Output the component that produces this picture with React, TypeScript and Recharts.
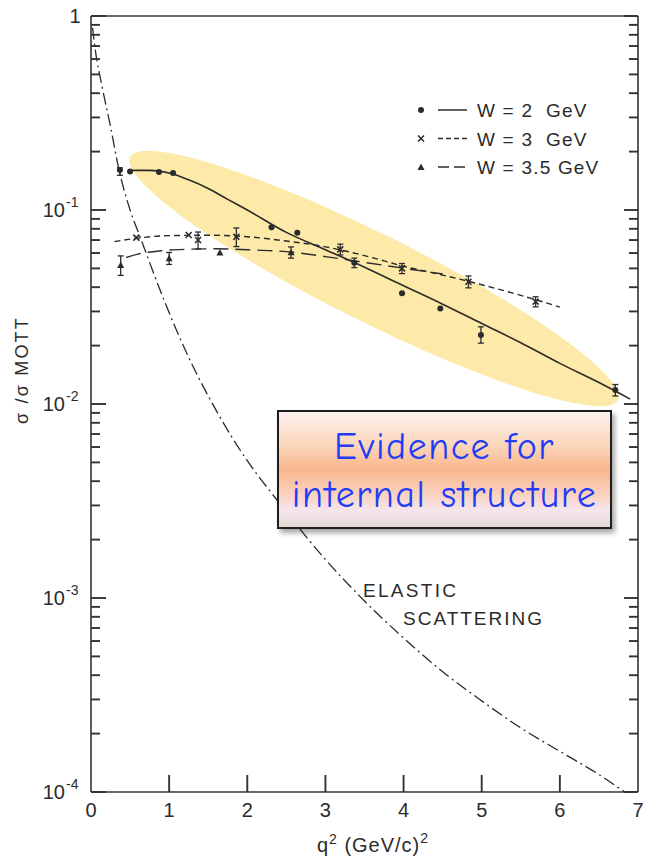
import React from 'react'
import { ComposedChart, ErrorBar, Line, Scatter, XAxis, YAxis } from 'recharts'

// fitted curves (q^2 in (GeV/c)^2, sigma/sigma_Mott)
const w2Curve = [
  { x: 0.5, y: 0.16 }, { x: 0.75, y: 0.16 }, { x: 1.0, y: 0.155 }, { x: 1.25, y: 0.143 },
  { x: 1.5, y: 0.129 }, { x: 1.75, y: 0.1135 }, { x: 2.0, y: 0.1 }, { x: 2.5, y: 0.0767 },
  { x: 3.0, y: 0.0624 }, { x: 3.5, y: 0.0507 }, { x: 4.0, y: 0.0407 }, { x: 4.5, y: 0.0327 },
  { x: 5.0, y: 0.026 }, { x: 5.5, y: 0.0207 }, { x: 6.0, y: 0.0162 }, { x: 6.5, y: 0.0129 },
  { x: 6.9, y: 0.0106 },
]
const w3Curve = [
  { x: 0.3, y: 0.0687 }, { x: 0.6, y: 0.0716 }, { x: 1.0, y: 0.0738 }, { x: 1.5, y: 0.0741 },
  { x: 2.0, y: 0.0728 }, { x: 2.5, y: 0.0692 }, { x: 3.0, y: 0.0646 }, { x: 3.5, y: 0.0582 },
  { x: 4.0, y: 0.0513 }, { x: 4.5, y: 0.0462 }, { x: 5.0, y: 0.0412 }, { x: 5.5, y: 0.0363 },
  { x: 6.0, y: 0.0316 },
]
const w35Curve = [
  { x: 0.45, y: 0.0569 }, { x: 0.6, y: 0.0592 }, { x: 0.9, y: 0.0617 }, { x: 1.2, y: 0.0627 },
  { x: 1.6, y: 0.0631 }, { x: 2.0, y: 0.0624 }, { x: 2.5, y: 0.061 }, { x: 3.0, y: 0.0575 },
  { x: 3.5, y: 0.0537 }, { x: 4.0, y: 0.0501 }, { x: 4.5, y: 0.0468 },
]
const elasticCurve = [
  { x: 0.02, y: 0.871 }, { x: 0.05, y: 0.692 }, { x: 0.15, y: 0.417 }, { x: 0.25, y: 0.269 },
  { x: 0.35, y: 0.167 }, { x: 0.5, y: 0.1 }, { x: 0.63, y: 0.0724 }, { x: 0.93, y: 0.0347 },
  { x: 1.25, y: 0.0174 }, { x: 1.6, y: 0.0093 }, { x: 2.0, y: 0.0051 }, { x: 2.38, y: 0.0032 },
  { x: 3.0, y: 0.00158 }, { x: 3.44, y: 0.00102 }, { x: 4.0, y: 0.000622 }, { x: 4.5, y: 0.000417 },
  { x: 5.0, y: 0.000295 }, { x: 5.5, y: 0.000214 }, { x: 6.0, y: 0.000162 }, { x: 6.5, y: 0.000123 },
  { x: 6.83, y: 0.0001 },
]

// measured points, err = [down, up]
const w2Points = [
  { x: 0.37, y: 0.161, err: [0.01, 0.004] }, { x: 0.5, y: 0.158 }, { x: 0.87, y: 0.157 },
  { x: 1.05, y: 0.155 }, { x: 2.31, y: 0.0814 }, { x: 2.64, y: 0.0764 },
  { x: 3.37, y: 0.0535, err: [0.003, 0.003] }, { x: 3.98, y: 0.0372 }, { x: 4.47, y: 0.0311 },
  { x: 4.99, y: 0.0227, err: [0.0021, 0.0023] }, { x: 6.71, y: 0.0118, err: [0.0008, 0.0008] },
]
const w3Points = [
  { x: 0.58, y: 0.072 }, { x: 1.25, y: 0.0743 }, { x: 1.37, y: 0.07, err: [0.007, 0.007] },
  { x: 1.86, y: 0.0728, err: [0.008, 0.008] }, { x: 3.19, y: 0.0627, err: [0.004, 0.004] },
  { x: 3.98, y: 0.05, err: [0.003, 0.003] }, { x: 4.83, y: 0.0427, err: [0.003, 0.003] },
  { x: 5.69, y: 0.0337, err: [0.002, 0.002] },
]
const w35Points = [
  { x: 0.38, y: 0.052, err: [0.006, 0.006] }, { x: 1.0, y: 0.0564, err: [0.004, 0.004] },
  { x: 1.65, y: 0.0603 }, { x: 2.56, y: 0.0605, err: [0.004, 0.004] },
]

const xTicks = [0, 1, 2, 3, 4, 5, 6, 7]
const topTicks = [1, 2, 3, 4, 5, 6]
const majorTicks = [0.0001, 0.001, 0.01, 0.1, 1]
const majorExponents = ['-4', '-3', '-2', '-1', '0']
const minorSteps = [2, 3, 4, 5, 6, 7, 8, 9]
const yTicks = majorTicks.flatMap((m, i) => (i < majorTicks.length - 1 ? [m, ...minorSteps.map((s) => m * s)] : [m]))

const legendRows = [
  { label: 'W = 2  GeV', dash: undefined, marker: 'dot' },
  { label: 'W = 3  GeV', dash: '5 3', marker: 'cross' },
  { label: 'W = 3.5 GeV', dash: '11 5', marker: 'tri' },
]

const W = 646
const H = 860
const PLOT = { left: 91, right: 638, top: 16, bottom: 792 }
const X_MAX = 7
const DECADES = 4
const INK = '#2b2b2b'
const FRAME = '#333'
const FONT = '"Liberation Sans", Arial, Helvetica, sans-serif'

const px = (x: number) => PLOT.left + (x / X_MAX) * (PLOT.right - PLOT.left)
const py = (y: number) => PLOT.top + (-Math.log10(y) / DECADES) * (PLOT.bottom - PLOT.top)

// highlight ellipse, given by its two tips in data units
const ellipseTips = [{ x: 0.5, y: 0.1875 }, { x: 6.74, y: 0.0105 }]

const majorIndex = (v: number) => majorTicks.findIndex((m) => Math.abs(m - v) / m < 1e-6)

function LeftTick({ y, payload }: any) {
  const i = majorIndex(payload.value)
  const len = i >= 0 ? 15 : 9
  return (
    <g>
      <line x1={PLOT.left} x2={PLOT.left + len} y1={y} y2={y} stroke={FRAME} strokeWidth={1.9} />
      {i === majorTicks.length - 1 && (
        <text x={75} y={y + 7} textAnchor="middle" fontSize={20} fontFamily={FONT} fill={INK}>1</text>
      )}
      {i >= 0 && i < majorTicks.length - 1 && (
        <g fontFamily={FONT} fill={INK}>
          <text x={65} y={y + 7} textAnchor="end" fontSize={20}>10</text>
          <text x={66} y={y - 3} fontSize={14}>{majorExponents[i]}</text>
        </g>
      )}
    </g>
  )
}

function RightTick({ y, payload }: any) {
  const len = majorIndex(payload.value) >= 0 ? 14 : 9
  return <line x1={PLOT.right} x2={PLOT.right - len} y1={y} y2={y} stroke={FRAME} strokeWidth={1.9} />
}

function BottomTick({ x, payload }: any) {
  const v = payload.value
  return (
    <g>
      {v > 0 && v < X_MAX && <line x1={x} x2={x} y1={PLOT.bottom} y2={PLOT.bottom - 17} stroke={FRAME} strokeWidth={1.9} />}
      <text x={x} y={817} textAnchor="middle" fontSize={20} fontFamily={FONT} fill={INK}>{v}</text>
    </g>
  )
}

function TopTick({ x }: any) {
  return <line x1={x} x2={x} y1={PLOT.top} y2={PLOT.top + 16} stroke={FRAME} strokeWidth={1.9} />
}

const dotShape = (p: any) => <circle cx={p.cx} cy={p.cy} r={3} fill={INK} />
const crossShape = (p: any) => (
  <g stroke={INK} strokeWidth={1.6}>
    <line x1={p.cx - 3} x2={p.cx + 3} y1={p.cy - 3} y2={p.cy + 3} />
    <line x1={p.cx - 3} x2={p.cx + 3} y1={p.cy + 3} y2={p.cy - 3} />
  </g>
)
const triShape = (p: any) => (
  <path d={`M${p.cx},${p.cy - 3.5} L${p.cx + 3.5},${p.cy + 3} L${p.cx - 3.5},${p.cy + 3} Z`} fill={INK} />
)

function Marker({ kind, cx, cy }: { kind: string; cx: number; cy: number }) {
  if (kind === 'dot') return dotShape({ cx, cy })
  if (kind === 'cross') return crossShape({ cx, cy })
  return triShape({ cx, cy })
}

export default function App() {
  const [a, b] = ellipseTips.map((t) => ({ x: px(t.x), y: py(t.y) }))
  const ecx = (a.x + b.x) / 2
  const ecy = (a.y + b.y) / 2
  const erx = Math.hypot(b.x - a.x, b.y - a.y) / 2
  const eang = (Math.atan2(b.y - a.y, b.x - a.x) * 180) / Math.PI

  return (
    <div style={{ position: 'absolute', left: 0, top: 0, width: W, height: H, background: '#fff' }}>
      <svg width={W} height={H} style={{ position: 'absolute', left: 0, top: 0 }}>
        <ellipse cx={ecx} cy={ecy} rx={erx} ry={44} fill="#fde9a8" transform={`rotate(${eang} ${ecx} ${ecy})`} />
      </svg>

      <div style={{ position: 'absolute', left: 0, top: 0 }}>
        <ComposedChart width={W} height={H} margin={{ top: 0, right: 0, bottom: 0, left: 0 }}>
          <XAxis
            dataKey="x"
            type="number"
            domain={[0, X_MAX]}
            ticks={xTicks}
            interval={0}
            height={H - PLOT.bottom}
            tick={BottomTick}
            tickLine={false}
            tickSize={0}
            axisLine={{ stroke: FRAME, strokeWidth: 1.6 }}
          />
          <XAxis
            xAxisId="t"
            orientation="top"
            type="number"
            domain={[0, X_MAX]}
            ticks={topTicks}
            interval={0}
            height={PLOT.top}
            tick={TopTick}
            tickLine={false}
            tickSize={0}
            axisLine={{ stroke: FRAME, strokeWidth: 1.6 }}
          />
          <YAxis
            dataKey="y"
            type="number"
            scale="log"
            domain={[0.0001, 1]}
            allowDataOverflow
            ticks={yTicks}
            interval={0}
            width={PLOT.left}
            tick={LeftTick}
            tickLine={false}
            tickSize={0}
            axisLine={{ stroke: FRAME, strokeWidth: 1.6 }}
          />
          <YAxis
            yAxisId="r"
            orientation="right"
            type="number"
            scale="log"
            domain={[0.0001, 1]}
            allowDataOverflow
            ticks={yTicks}
            interval={0}
            width={W - PLOT.right}
            tick={RightTick}
            tickLine={false}
            tickSize={0}
            axisLine={{ stroke: FRAME, strokeWidth: 1.6 }}
          />

          <Line data={elasticCurve} dataKey="y" type="monotone" stroke={INK} strokeWidth={1.3} strokeDasharray="12 4 2 4" dot={false} isAnimationActive={false} />
          <Line data={w35Curve} dataKey="y" type="monotone" stroke={INK} strokeWidth={1.4} strokeDasharray="15 7" dot={false} isAnimationActive={false} />
          <Line data={w3Curve} dataKey="y" type="monotone" stroke={INK} strokeWidth={1.4} strokeDasharray="6 4" dot={false} isAnimationActive={false} />
          <Line data={w2Curve} dataKey="y" type="monotone" stroke={INK} strokeWidth={1.6} dot={false} isAnimationActive={false} />

          <Scatter data={w2Points} dataKey="y" shape={dotShape} isAnimationActive={false}>
            <ErrorBar dataKey="err" direction="y" width={3} stroke={INK} strokeWidth={1.3} />
          </Scatter>
          <Scatter data={w3Points} dataKey="y" shape={crossShape} isAnimationActive={false}>
            <ErrorBar dataKey="err" direction="y" width={3} stroke={INK} strokeWidth={1.3} />
          </Scatter>
          <Scatter data={w35Points} dataKey="y" shape={triShape} isAnimationActive={false}>
            <ErrorBar dataKey="err" direction="y" width={3} stroke={INK} strokeWidth={1.3} />
          </Scatter>
        </ComposedChart>
      </div>

      <svg width={W} height={H} style={{ position: 'absolute', left: 0, top: 0, pointerEvents: 'none' }} fontFamily={FONT} fill={INK}>
        {legendRows.map((r, i) => {
          const y = 110 + i * 28.5
          return (
            <g key={r.label}>
              <Marker kind={r.marker} cx={421} cy={y} />
              <line x1={438} x2={467} y1={y} y2={y} stroke={INK} strokeWidth={1.5} strokeDasharray={r.dash} />
              <text x={477} y={y + 7} fontSize={19} letterSpacing={1.2} style={{ whiteSpace: 'pre' }}>{r.label}</text>
            </g>
          )
        })}
        <text x={363} y={597} fontSize={19} letterSpacing={2.3}>ELASTIC</text>
        <text x={403} y={625} fontSize={19} letterSpacing={2}>SCATTERING</text>
        <text x={373} y={852} textAnchor="middle" fontSize={20} letterSpacing={1} style={{ whiteSpace: 'pre' }}>
          q<tspan dy={-8} fontSize={14}>2</tspan><tspan dy={8}> (GeV/c)</tspan><tspan dy={-9} fontSize={14}>2</tspan>
        </text>
        <text x={28} y={370} transform="rotate(-90 28 370)" textAnchor="middle" fontSize={18} letterSpacing={2.2}>
          σ /σ MOTT
        </text>
      </svg>

      <div
        style={{
          position: 'absolute',
          left: 277,
          top: 410,
          width: 335,
          height: 119,
          border: '2px solid #1e1e1e',
          boxShadow: '3px 4px 5px rgba(0,0,0,0.35)',
          background: 'linear-gradient(to bottom, #fdf1ee 0%, #fbd7bd 28%, #f8b68c 50%, #fad2c0 72%, #f4e6ee 86%, #e6d8d2 100%)',
          color: '#1f3cf6',
          fontFamily: '"Comic Sans MS", "Comic Neue", "Open Sans", sans-serif',
          fontSize: 38,
          fontWeight: 500,
          letterSpacing: 1.5,
          lineHeight: '48px',
          textAlign: 'center',
          paddingTop: 11,
          boxSizing: 'border-box',
        }}
      >
        Evidence for
        <br />
        internal structure
      </div>
    </div>
  )
}
